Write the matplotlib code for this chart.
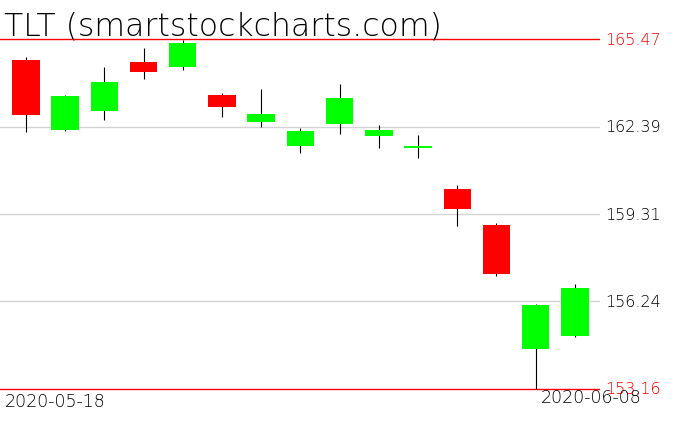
import numpy as np
import matplotlib
matplotlib.use("Agg")
from matplotlib import pyplot as plt

# daily OHLC, 2020-05-18 .. 2020-06-08
opens  = [164.73, 162.28, 162.95, 164.66, 164.50, 163.50, 162.56, 161.72, 162.48, 162.07, 161.65, 160.19, 158.93, 154.58, 155.03]
highs  = [164.83, 163.49, 164.49, 165.15, 165.43, 163.57, 163.72, 162.34, 163.89, 162.45, 162.09, 160.33, 159.00, 156.14, 156.85]
lows   = [162.19, 162.24, 162.63, 164.06, 164.39, 162.74, 162.39, 161.45, 162.13, 161.65, 161.27, 158.90, 157.14, 153.16, 155.00]
closes = [162.81, 163.47, 163.97, 164.32, 165.34, 163.09, 162.83, 162.23, 163.39, 162.27, 161.72, 159.50, 157.21, 156.11, 156.71]
grid_levels = [162.39, 159.31, 156.24]
top_level = 165.47
bottom_level = 153.16
first_date = "2020-05-18"
last_date = "2020-06-08"

W, H = 676, 431
fig = plt.figure(figsize=(W/100, H/100), dpi=100)
ax = fig.add_axes([0, 0, 600/W, 1])
ax.set_xlim(-0.66, 14.64)
ax.set_ylim(151.717, 166.877)
ax.axis("off")

thin = dict(fontweight=200)

for lv in grid_levels:
    ax.axhline(lv, color="#d3d3d3", lw=1.0, zorder=1)
    ax.text(1.008, lv, "%.2f" % lv, transform=ax.get_yaxis_transform(),
            ha="left", va="center", fontsize=11.5, color="black", clip_on=False, **thin)
for lv in [top_level, bottom_level]:
    ax.axhline(lv, color="red", lw=1.0, zorder=1)
    ax.text(1.008, lv, "%.2f" % lv, transform=ax.get_yaxis_transform(),
            ha="left", va="center", fontsize=11.5, color="red", clip_on=False, **thin)

x = np.arange(len(opens))
o = np.array(opens); c = np.array(closes)
up = c >= o
ax.vlines(x, lows, highs, color="black", lw=0.8, zorder=2)
ax.bar(x, np.abs(c - o), bottom=np.minimum(o, c), width=0.70,
       color=np.where(up, "#00ff00", "#ff0000"), zorder=3)

fig.text(4/W, 1 - 12/H, "TLT (smartstockcharts.com)",
         ha="left", va="top", fontsize=22.7, color="black", **thin)
fig.text(5/W, 1 - 393/H, first_date, ha="left", va="top", fontsize=12.5, **thin)
fig.text(541/W, 1 - 389/H, last_date, ha="left", va="top", fontsize=12.5, **thin)

fig.savefig("out.png", dpi=100)
